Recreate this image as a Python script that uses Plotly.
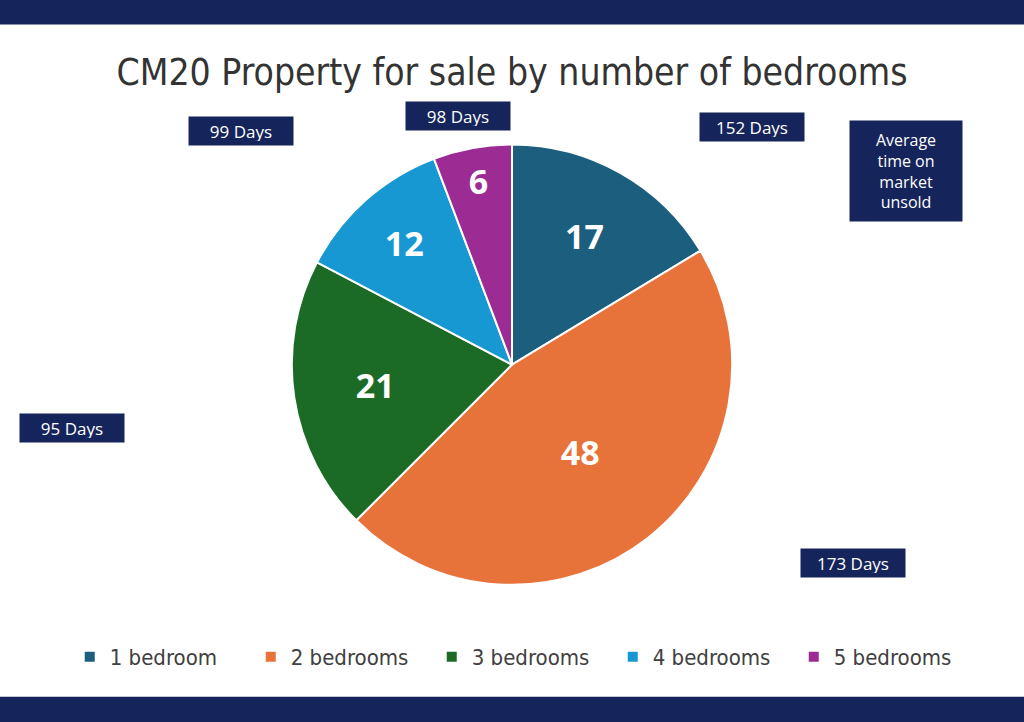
#!/usr/bin/env python3
"""
CM20 property for sale by number of bedrooms, pie chart with
average-days-on-market call-outs.
Output: out.html
"""
import plotly.graph_objects as go

NAVY = "#15245a"

bedrooms = ["1 bedroom", "2 bedrooms", "3 bedrooms", "4 bedrooms", "5 bedrooms"]
listings = [17, 48, 21, 12, 6]
days_unsold = [152, 173, 95, 99, 98]
slice_colors = ["#1b5e7e", "#e8733a", "#1b6b27", "#1798d3", "#9c2c93"]

# where each "Days" call-out sits (paper coords), same order as bedrooms
callout_x = [0.734, 0.833, 0.070, 0.235, 0.447]
callout_y = [0.824, 0.220, 0.407, 0.818, 0.839]


def main():
    fig = go.Figure(
        go.Pie(
            labels=bedrooms,
            values=listings,
            sort=False,
            direction="clockwise",
            rotation=0,
            marker=dict(colors=slice_colors, line=dict(color="white", width=2)),
            textinfo="value",
            textposition="inside",
            insidetextorientation="horizontal",
            textfont=dict(family="Open Sans", size=34, color="white", weight="bold"),
            hoverinfo="label+value+percent",
            domain=dict(x=[0.1, 0.9], y=[0.19, 0.80]),
        )
    )

    annotations = []
    for x, y, d in zip(callout_x, callout_y, days_unsold):
        annotations.append(dict(
            x=x, y=y, xref="paper", yref="paper",
            xanchor="center", yanchor="middle",
            text=f"{d} Days", showarrow=False,
            font=dict(family="Open Sans", size=17, color="white"),
            bgcolor=NAVY, borderpad=4, width=96, height=20,
        ))
    annotations.append(dict(
        x=0.885, y=0.763, xref="paper", yref="paper",
        xanchor="center", yanchor="middle",
        text="Average<br>time on<br>market<br>unsold", showarrow=False,
        font=dict(family="Open Sans", size=16, color="white"),
        bgcolor=NAVY, borderpad=8, align="center", width=96,
    ))

    fig.update_layout(
        width=1024,
        height=722,
        paper_bgcolor="white",
        plot_bgcolor="white",
        margin=dict(l=0, r=0, t=0, b=0),
        title=dict(
            text="CM20 Property for sale by number of bedrooms",
            x=0.5, xanchor="center", y=0.9, yanchor="middle",
            font=dict(family="DejaVu Sans Condensed, Roboto", size=37, color="#333333"),
        ),
        legend=dict(
            orientation="h",
            x=0.51, xanchor="center",
            y=0.09, yanchor="middle",
            entrywidth=136,
            font=dict(family="DejaVu Sans Condensed, Roboto", size=22, color="#404040"),
        ),
        annotations=annotations,
        shapes=[
            dict(type="rect", xref="paper", yref="paper", x0=0, x1=1, y0=0.966, y1=1,
                 fillcolor=NAVY, line=dict(width=0), layer="below"),
            dict(type="rect", xref="paper", yref="paper", x0=0, x1=1, y0=0, y1=0.035,
                 fillcolor=NAVY, line=dict(width=0), layer="below"),
        ],
    )

    fig.write_html(
        "out.html",
        config={"displayModeBar": False},
        post_script="document.body.style.margin='0';",
    )


if __name__ == "__main__":
    main()
